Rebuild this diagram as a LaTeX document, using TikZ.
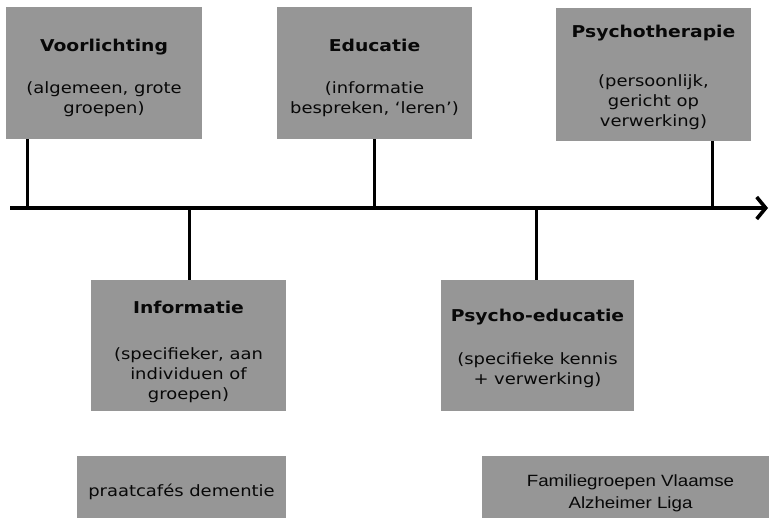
\documentclass[tikz,border=0pt]{standalone}
\usepackage{fontspec}
\usetikzlibrary{arrows.meta}
\newfontfamily\vfont[FakeStretch=1.15]{DejaVu Sans}
\newfontfamily\afont[FakeStretch=1.15]{Liberation Sans}
\definecolor{boxgray}{RGB}{150,150,150}
\definecolor{txt}{RGB}{8,8,8}
\newcommand{\ttl}[1]{{\fontsize{16.3}{20}\selectfont\bfseries #1}}
\tikzset{
  gbox/.style={fill=boxgray, draw=none, inner sep=0pt},
  glabel/.style={inner sep=0pt, align=center, text=txt,
    font=\vfont\fontsize{15.6}{20}\selectfont},
  conn/.style={line width=3pt},
  axisline/.style={line width=3.8pt, -{Straight Barb[length=9pt,width=22pt,line width=3.6pt]}}
}
\begin{document}
\begin{tikzpicture}[x=1pt,y=-1pt]
\useasboundingbox (0,0) rectangle (769,518);
% boxes above axis
\node[gbox, minimum width=196pt, minimum height=132pt] (V) at (104,73) {};
\node[glabel] (Vt) at ([yshift=-5pt]V.center)
  {\ttl{Voorlichting}\\[22pt](algemeen, grote\\groepen)};
\node[gbox, minimum width=195pt, minimum height=132pt] (E) at (374.5,73) {};
\node[glabel] (Et) at ([yshift=-5pt]E.center)
  {\ttl{Educatie}\\[22pt](informatie\\bespreken, ‘leren’)};
\node[gbox, minimum width=195pt, minimum height=133pt] (P) at (653.5,74.5) {};
\node[glabel] (Pt) at ([yshift=-3pt]P.center)
  {\ttl{Psychotherapie}\\[29pt](persoonlijk,\\gericht op\\verwerking)};
% boxes below axis
\node[gbox, minimum width=195pt, minimum height=131pt] (I) at (188.5,345.5) {};
\node[glabel] (It) at ([yshift=-6pt]I.center)
  {\ttl{Informatie}\\[26pt](specifieker, aan\\individuen of\\groepen)};
\node[gbox, minimum width=193pt, minimum height=131pt] (PE) at (537.5,345.5) {};
\node[glabel] (PEt) at ([yshift=-3pt]PE.center)
  {\ttl{Psycho-educatie}\\[23pt](specifieke kennis\\+ verwerking)};
% bottom boxes
\fill[boxgray] (77,456) rectangle (286,518);
\node[glabel] (PC) at (181.5,492) {praatcafés dementie};
\fill[boxgray] (482,456) rectangle (769,518);
\node[glabel, font=\afont\fontsize{16.3}{22}\selectfont] (FG) at (630.5,493) {Familiegroepen Vlaamse\\Alzheimer Liga};
% axis points
\coordinate (axL) at (10,208);
\coordinate (axR) at (768,208);
\coordinate (tV) at (27,208);
\coordinate (tE) at (374,208);
\coordinate (tP) at (712,208);
\coordinate (tI) at (189,208);
\coordinate (tPE) at (536,208);
% connectors
\draw[conn] (V.south west -| tV) -- (tV);
\draw[conn] (E.south -| tE) -- (tE);
\draw[conn] (P.south west -| tP) -- (tP);
\draw[conn] (I.north -| tI) -- (tI);
\draw[conn] (PE.north -| tPE) -- (tPE);
% axis
\draw[axisline] (axL) -- (axR);
\end{tikzpicture}
\end{document}
